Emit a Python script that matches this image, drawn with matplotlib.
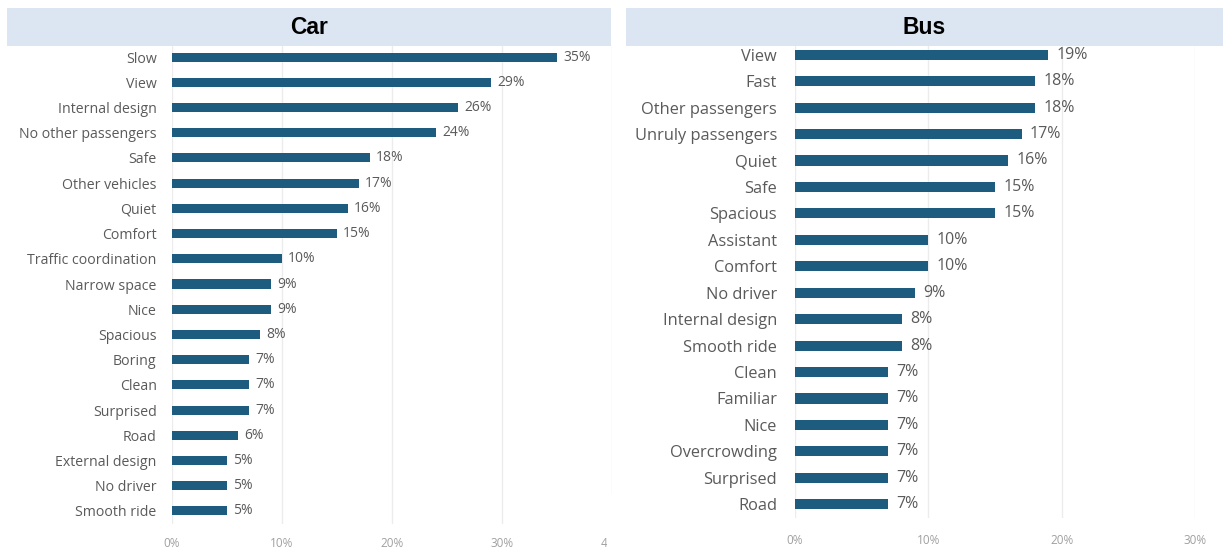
import matplotlib
matplotlib.use("Agg")
import matplotlib.pyplot as plt
from matplotlib.patches import Rectangle

# Survey shares (%) of words associated with each vehicle type
car_labels = ["Slow", "View", "Internal design", "No other passengers", "Safe",
              "Other vehicles", "Quiet", "Comfort", "Traffic coordination",
              "Narrow space", "Nice", "Spacious", "Boring", "Clean", "Surprised",
              "Road", "External design", "No driver", "Smooth ride"]
car_values = [35, 29, 26, 24, 18, 17, 16, 15, 10, 9, 9, 8, 7, 7, 7, 6, 5, 5, 5]

bus_labels = ["View", "Fast", "Other passengers", "Unruly passengers", "Quiet",
              "Safe", "Spacious", "Assistant", "Comfort", "No driver",
              "Internal design", "Smooth ride", "Clean", "Familiar", "Nice",
              "Overcrowding", "Surprised", "Road"]
bus_values = [19, 18, 18, 17, 16, 15, 15, 10, 10, 9, 8, 8, 7, 7, 7, 7, 7, 7]

car_ticks = [0, 10, 20, 30, 40]
bus_ticks = [0, 10, 20, 30]

BAR = "#1d5b7f"
BAND = "#dce6f2"
TXT = "#5a5a5a"
TICK = "#a0a0a0"
GRID = "#ececec"
FONT = "Open Sans"

W, H = 1223, 554
fig = plt.figure(figsize=(W / 100, H / 100), dpi=100)
fig.patch.set_facecolor("white")


def px_axes(x0, y0, x1, y1):
    return fig.add_axes([x0 / W, 1 - y1 / H, (x1 - x0) / W, (y1 - y0) / H])


def panel(ax, labels, values, ticks, xmax, label_size, label_pad,
          value_size, value_pad, tick_size, tick_pad, bar_h):
    ys = list(range(len(labels)))
    bars = ax.barh(ys, values, height=bar_h, color=BAR, zorder=3)
    ax.set_ylim(len(labels) - 0.5, -0.5)
    ax.set_xlim(0, xmax)
    ax.set_yticks(ys)
    ax.set_yticklabels(labels, fontsize=label_size, color=TXT, family=FONT)
    ax.set_xticks(ticks)
    ax.set_xticklabels([f"{t}%" for t in ticks], fontsize=tick_size,
                       color=TICK, family=FONT)
    ax.tick_params(axis="y", length=0, pad=label_pad)
    ax.tick_params(axis="x", length=0, pad=tick_pad)
    for s in ax.spines.values():
        s.set_visible(False)
    ax.xaxis.grid(True, color=GRID, linewidth=1.0, zorder=0)
    ax.set_axisbelow(True)
    ax.bar_label(bars, labels=[f"{v}%" for v in values], padding=value_pad,
                 fontsize=value_size, color=TXT, family=FONT)


ax_car = px_axes(172, 44.5, 612, 523.5)
panel(ax_car, car_labels, car_values, car_ticks, 40,
      label_size=10.2, label_pad=11, value_size=10, value_pad=4.5,
      tick_size=8.5, tick_pad=10, bar_h=0.36)

ax_bus = px_axes(795, 41.5, 1195, 517.5)
panel(ax_bus, bus_labels, bus_values, bus_ticks, 30,
      label_size=11.8, label_pad=13, value_size=11.5, value_pad=6,
      tick_size=8.5, tick_pad=12, bar_h=0.38)

# Header bands
for (x0, x1, title) in [(7, 611, "Car"), (626, 1223, "Bus")]:
    fig.add_artist(Rectangle((x0 / W, 1 - 46 / H), (x1 - x0) / W, 38 / H,
                             transform=fig.transFigure, facecolor=BAND,
                             edgecolor="none", zorder=5))
    fig.text((x0 + x1) / 2 / W, 1 - 27 / H, title, ha="center", va="center",
             fontsize=16.5, fontweight="bold", family="Liberation Sans",
             color="black", zorder=6)

# Blank gutter between the two panels
fig.add_artist(Rectangle((607 / W, 0), (626 - 607) / W, 60 / H,
                         transform=fig.transFigure, facecolor="white",
                         edgecolor="none", zorder=5))

fig.savefig("out.png", dpi=100)
